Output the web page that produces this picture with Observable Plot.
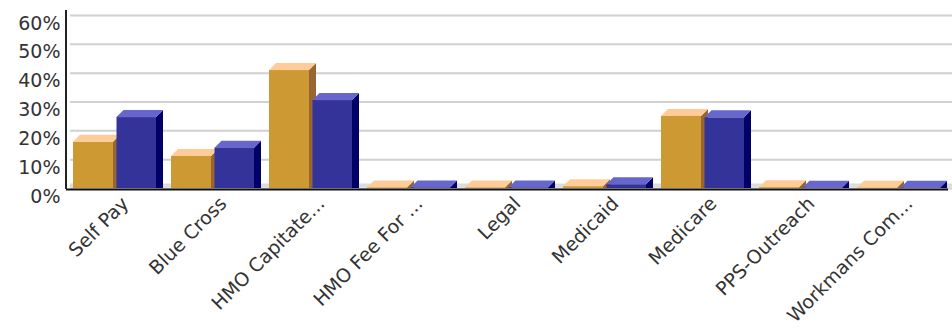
<!DOCTYPE html>
<html>
<head>
<meta charset="utf-8">
<script src="https://cdn.jsdelivr.net/npm/d3@7"></script>
<script src="https://cdn.jsdelivr.net/npm/@observablehq/plot@0.6"></script>
<style>
  html, body { margin: 0; padding: 0; background: #fff; }
  #chart svg { display: block; }
</style>
</head>
<body>
<div id="chart"></div>
<script>
// Payer categories (labels as shown, truncated)
const categories = ["Self Pay", "Blue Cross", "HMO Capitate...", "HMO Fee For ...", "Legal",
                    "Medicaid", "Medicare", "PPS-Outreach", "Workmans Com..."];
// Share of total (%) for the two series
const goldSeries = [16.0, 11.1, 40.9, 0.2, 0.2, 0.6, 25.0, 0.3, 0.1];
const blueSeries = [24.6, 14.0, 30.5, 0.2, 0.2, 1.3, 24.5, 0.1, 0.1];
// Y-axis ticks
const yTicks = [0, 10, 20, 30, 40, 50, 60];

const rows = categories.map((c, i) => ({category: c, gold: goldSeries[i], blue: blueSeries[i]}));

const depth = 7;
const font = "DejaVu Sans, Verdana, sans-serif";

// Extruded top and right faces of each bar, drawn from the plot's scales
function faces(key, insetLeft, insetRight, topColor, sideColor) {
  return (index, scales) => {
    const x = scales.x, y = scales.y;
    const bw = typeof x.bandwidth === "function" ? x.bandwidth() : x.bandwidth;
    const g = d3.create("svg:g");
    const y0 = y(0);
    for (const r of rows) {
      const x0 = x(r.category) + insetLeft;
      const x1 = x(r.category) + bw - insetRight;
      const yv = y(r[key]);
      g.append("path")
        .attr("fill", sideColor)
        .attr("d", `M${x1},${yv}L${x1 + depth},${yv - depth}L${x1 + depth},${y0}L${x1},${y0}Z`);
      g.append("path")
        .attr("fill", topColor)
        .attr("d", `M${x0},${yv}L${x1},${yv}L${x1 + depth},${yv - depth}L${x0 + depth},${yv - depth}Z`);
    }
    return g.node();
  };
}

// Left axis line, running a little above the top gridline
const leftAxis = (index, scales, values, dimensions) => {
  const g = d3.create("svg:g");
  g.append("line")
    .attr("x1", dimensions.marginLeft).attr("x2", dimensions.marginLeft)
    .attr("y1", dimensions.marginTop - 5).attr("y2", dimensions.height - dimensions.marginBottom + 1)
    .attr("stroke", "#222").attr("stroke-width", 2);
  return g.node();
};

const chart = Plot.plot({
  width: 952,
  height: 331,
  marginTop: 15,
  marginBottom: 143,
  marginLeft: 66,
  marginRight: 4,
  style: {fontFamily: font, fontSize: "19px", color: "#333", background: "#fff"},
  x: {domain: categories, padding: 0, label: null},
  y: {domain: [0, 60], label: null},
  marks: [
    Plot.gridY(yTicks, {stroke: "#d0d0d0", strokeOpacity: 1, strokeWidth: 2, dx: 4}),
    Plot.ruleY([0], {stroke: "#dcdcdc", strokeWidth: 4, dy: -3, dx: 4}),
    faces("gold", 7, 51, "#ffcc99", "#996633"),
    Plot.barY(rows, {x: "category", y: "gold", fill: "#cc9933", insetLeft: 7, insetRight: 51}),
    faces("blue", 50.5, 8, "#6666cc", "#000066"),
    Plot.barY(rows, {x: "category", y: "blue", fill: "#333399", insetLeft: 50.5, insetRight: 8}),
    Plot.ruleY([0], {stroke: "#111", strokeWidth: 2, dy: 1}),
    leftAxis,
    Plot.axisY(yTicks, {tickSize: 0, tickPadding: 6, dy: 8, tickFormat: d => d + "%", fontSize: 19, fill: "#333", label: null}),
    Plot.axisX({tickSize: 0, tickPadding: 12, tickRotate: -45, dx: 10, fontSize: 19, fill: "#333", label: null})
  ]
});

document.getElementById("chart").appendChild(chart);
</script>
</body>
</html>
